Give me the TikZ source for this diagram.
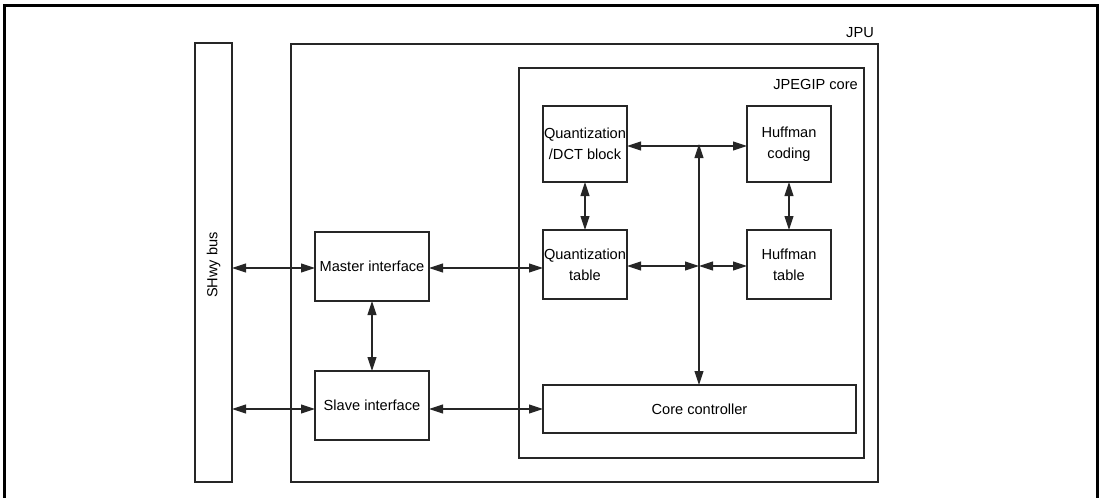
\documentclass[tikz,border=0pt]{standalone}
\usepackage{fontspec}
\setmainfont{Liberation Sans}
\usetikzlibrary{arrows.meta}
\begin{document}
\begin{tikzpicture}[x=1pt,y=-1pt,
  box/.style={draw=black!85,line width=2.2pt,rectangle,inner sep=0pt,outer sep=0pt,align=center,
    font=\fontsize{14.6}{21}\selectfont},
  lbl/.style={inner sep=0pt,font=\fontsize{14.6}{21}\selectfont},
  conn/.style={line width=1.1pt,draw=black!85,{Triangle[length=14pt,width=9pt]}-{Triangle[length=14pt,width=9pt]}}]
\useasboundingbox (0,0) rectangle (1101,498);
% outer frame
\draw[line width=3pt] (4,500) -- (4,5) -- (1097,5) -- (1097,500);
% SHwy bus
\node[box,minimum width=37pt,minimum height=439pt,anchor=north west] (bus) at (195,43) {};
\node[lbl,rotate=90] (buslbl) at (213.5,265) {SHwy bus};
% JPU
\node[box,minimum width=587pt,minimum height=438pt,anchor=north west] (jpu) at (291,44) {};
\node[lbl,anchor=base east] (jpulbl) at (874,37) {JPU};
% JPEGIP core
\node[box,minimum width=345pt,minimum height=390pt,anchor=north west] (core) at (519,68) {};
\node[lbl,anchor=base east] (corelbl) at (858,89) {JPEGIP core};
% inner blocks
\node[box,minimum width=84pt,minimum height=76pt,anchor=north west] (qdct) at (543,106) {Quantization\\/DCT block};
\node[box,minimum width=84pt,minimum height=76pt,anchor=north west] (hcod) at (747,106) {Huffman\\coding};
\node[box,minimum width=84pt,minimum height=69pt,anchor=north west] (qtab) at (543,230) {Quantization\\table};
\node[box,minimum width=84pt,minimum height=69pt,anchor=north west] (htab) at (747,230) {Huffman\\table};
\node[box,minimum width=114pt,minimum height=69pt,anchor=north west] (mif) at (315,232) {Master interface};
\node[box,minimum width=114pt,minimum height=69pt,anchor=north west] (sif) at (315,371) {Slave interface};
\node[box,minimum width=313pt,minimum height=48pt,anchor=north west] (cc) at (543,385) {Core controller};
% junctions
\coordinate (jtop) at (699,146);
\coordinate (jmid) at (699,266);
\coordinate (jbot) at (699,385);
% connectors
\draw[conn] (bus.east |- 0,268) -- (mif.west |- 0,268);
\draw[conn] (bus.east |- 0,409) -- (sif.west |- 0,409);
\draw[conn] (mif.east |- 0,268) -- (qtab.west |- 0,268);
\draw[conn] (sif.east |- 0,409) -- (cc.west |- 0,409);
\draw[conn] (mif.south) -- (sif.north);
\draw[conn] (qdct.south) -- (qtab.north);
\draw[conn] (hcod.south) -- (htab.north);
\draw[conn] (qdct.east |- jtop) -- (hcod.west |- jtop);
\draw[conn] (jbot) -- ([yshift=2pt]jtop);
\draw[conn] (qtab.east |- jmid) -- (jmid);
\draw[conn] (jmid) -- (htab.west |- jmid);
\end{tikzpicture}
\end{document}
